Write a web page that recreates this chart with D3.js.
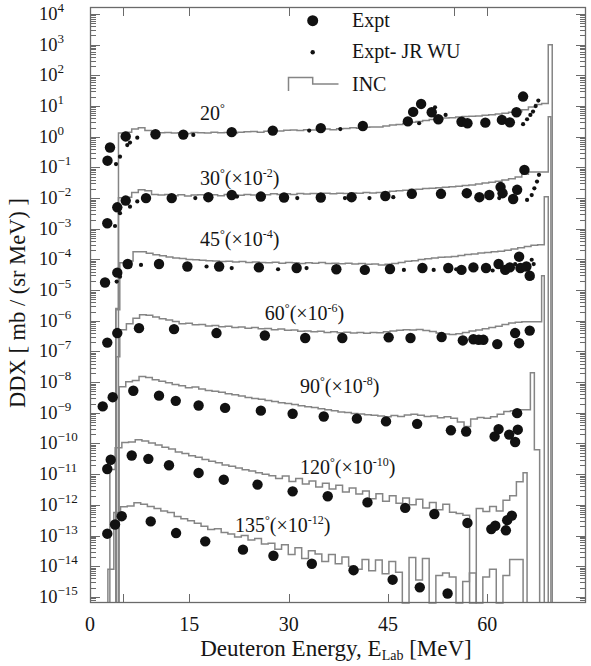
<!DOCTYPE html>
<html><head><meta charset="utf-8">
<script src="https://cdn.jsdelivr.net/npm/d3@7"></script>
<style>body{margin:0;background:#fff}svg{display:block}text{font-family:"Liberation Serif","Times New Roman",serif;fill:#151515}</style>
</head><body>
<script>
// ---------------- DATA (log10 of displayed DDX) ----------------
const xTicks = [0, 15, 30, 45, 60];
const xMinorTicks = [5];
const topTicks = [5, 15, 30, 55, 60];
const yDecades = d3.range(-15, 5);

// INC histograms: start, end energy (MeV) and log10 values of equal-width bins
const inc20Range = [4.3, 69.2];
const inc20 = [0.12,0.15,0.25,0.29,0.20,0.15,0.13,0.14,0.12,0.13,0.11,0.14,0.13,0.12,0.15,0.13,0.14,0.12,0.15,0.16,
  0.17,0.15,0.18,0.20,0.19,0.21,0.22,0.20,0.23,0.22,0.24,0.25,0.23,0.26,0.27,0.29,0.28,0.31,0.32,0.32,
  0.35,0.38,0.40,0.43,0.47,0.50,0.53,0.56,0.58,0.61,0.62,0.64,0.66,0.67,0.68,0.70,0.72,0.74,0.77,0.80,
  0.82,0.88,0.97,1.05,1.08];
const inc30Range = [4.3, 69.2];
const inc30 = [-1.99,-1.97,-1.82,-1.73,-1.76,-1.88,-1.90,-1.88,-1.92,-1.89,-1.93,-1.90,-1.89,-1.91,-1.89,-1.92,-1.88,-1.90,-1.91,-1.88,
  -1.90,-1.87,-1.89,-1.86,-1.88,-1.86,-1.88,-1.85,-1.87,-1.85,-1.87,-1.84,-1.86,-1.84,-1.85,-1.83,-1.84,-1.82,-1.83,-1.82,
  -1.81,-1.78,-1.76,-1.74,-1.72,-1.71,-1.69,-1.68,-1.66,-1.65,-1.63,-1.61,-1.59,-1.57,-1.54,-1.51,-1.48,-1.45,-1.41,-1.37,
  -1.31,-1.22,-1.15,-1.15,-1.15];
const inc45Range = [4.5, 68.6];
const inc45 = [-4.11,-4.05,-3.75,-3.75,-3.80,-3.85,-3.88,-3.92,-3.95,-3.97,-4.00,-4.01,-4.03,-4.04,-4.05,-4.07,-4.06,-4.08,-4.07,-4.10,
  -4.08,-4.10,-4.11,-4.09,-4.12,-4.10,-4.11,-4.13,-4.11,-4.12,-4.10,-4.13,-4.12,-4.14,-4.12,-4.15,-4.13,-4.16,-4.15,-4.18,
  -4.16,-4.13,-4.10,-4.06,-4.04,-4.00,-3.98,-3.95,-3.93,-3.92,-3.90,-3.87,-3.84,-3.82,-3.79,-3.77,-3.75,-3.73,-3.70,-3.66,
  -3.62,-3.58,-3.54,-3.52];
const inc60Range = [4.5, 68.2];
const inc60 = [-6.29,-6.10,-5.92,-5.80,-5.82,-5.88,-5.93,-5.97,-6.02,-6.10,-6.08,-6.13,-6.12,-6.17,-6.15,-6.19,-6.18,-6.22,-6.20,-6.24,
  -6.22,-6.26,-6.25,-6.29,-6.27,-6.31,-6.30,-6.34,-6.33,-6.36,-6.34,-6.38,-6.36,-6.39,-6.37,-6.40,-6.38,-6.41,-6.38,-6.39,
  -6.36,-6.33,-6.31,-6.29,-6.30,-6.28,-6.32,-6.35,-6.40,-6.43,-6.45,-6.42,-6.38,-6.33,-6.30,-6.26,-6.22,-6.18,-6.12,-6.07,
  -6.05,-6.03,-6.03,-6.03];
const inc90Range = [4.4, 66.5];
const inc90 = [-8.15,-7.99,-7.95,-7.82,-7.85,-7.92,-7.97,-8.02,-8.08,-8.12,-8.18,-8.16,-8.22,-8.27,-8.30,-8.33,-8.38,-8.41,-8.45,-8.50,
  -8.53,-8.56,-8.60,-8.63,-8.67,-8.70,-8.73,-8.77,-8.80,-8.83,-8.87,-8.90,-8.93,-8.97,-8.99,-9.02,-9.04,-9.06,-9.08,-9.10,
  -9.13,-9.09,-9.12,-9.07,-9.05,-9.08,-9.12,-9.10,-9.16,-9.13,-9.18,-9.30,-9.45,-9.20,-9.15,-9.18,-9.13,-9.05,-8.96,-8.93,
  -8.90,-8.90];
const inc120Range = [3.8, 65.4];
const inc120 = [-10.14,-9.97,-9.95,-9.88,-9.92,-9.98,-10.05,-10.12,-10.18,-10.28,-10.33,-10.40,-10.45,-10.52,-10.58,-10.63,-10.70,-10.74,-10.80,-10.86,
  -10.90,-10.95,-11.00,-11.05,-11.14,-11.06,-11.24,-11.14,-11.32,-11.22,-11.42,-11.30,-11.48,-11.36,-11.58,-11.45,-11.65,-11.55,-11.80,-11.64,
  -11.88,-11.70,-11.95,-11.78,-12.00,-11.82,-12.10,-11.92,-12.16,-11.98,-12.24,-12.28,-12.34,null,-12.12,-12.22,-12.05,-12.20,-11.85,-11.70,
  -11.25];
const inc135Range = [3.6, 65.4];
const inc135 = [-12.25,-12.06,-12.04,-11.93,-11.98,-12.05,-12.12,-12.20,-12.25,-12.38,-12.45,-12.52,-12.60,-12.70,-12.80,-12.78,-12.90,-12.95,-13.05,-13.00,
  -13.15,-13.10,-13.28,-13.25,-13.45,-13.30,-13.62,-13.40,-13.75,-13.50,-13.60,-13.85,-13.62,-13.92,-13.70,-14.00,-14.10,-13.78,-14.15,-13.80,
  -14.25,-13.85,-14.20,null,-13.72,-14.45,-13.75,null,-14.30,-14.22,-14.35,null,-14.50,-14.22,null,-14.35,-14.10,null,-14.30,-13.78,
  -13.78];
// extra narrow bins before the continuum and the elastic spikes after it: [E0, E1, log10]
const pre30 = [[3.9, 4.3, -5.6]];
const pre45 = [[3.9, 4.5, -5.64]];
const pre60 = [[4.0, 4.5, -7.17]];
const pre120 = [[3.0, 3.8, -10.85]];
const pre135 = [[2.7, 3.6, -14.1]];
const spike20 = [[69.2, 69.8, 3.0]];
const spike30 = [[69.2, 69.6, 0.65]];
const spike45 = [[68.6, 69.2, -1.96]];
const spike60 = [[68.2, 68.6, -4.53]];
const spike90 = [[66.5, 67.1, -7.69], [67.1, 67.9, -10.2]];
const spike120 = [[65.4, 66.0, -10.95]];

// Experimental points [E (MeV), log10 DDX]
const expt20 = [[2.64,-0.78],[3.02,-0.35],[5.39,0.01],[9.89,0.08],[14.09,0.07],[21.4,0.15],[27.6,0.20],[34.85,0.28],[41.2,0.35],[48.0,0.50],[48.8,0.81],[50.0,1.07],[51.6,0.80],[52.6,0.57],[56.1,0.49],[57.0,0.44],[59.7,0.46],[62.2,0.55],[63.4,0.47],[64.4,0.80],[65.4,1.31]];
const jrwu20 = [[3.93,-0.89],[4.53,-0.65],[5.63,-0.27],[6.04,-0.19],[7.14,-0.03],[15.6,0.06],[33.1,0.20],[37.8,0.25],[49.7,0.44],[52.1,0.96],[53.7,0.71],[65.4,0.41],[66.0,0.57],[66.5,0.71],[66.9,0.82],[67.3,1.0],[67.7,1.18]];
const expt30 = [[2.61,-2.82],[4.12,-2.30],[5.39,-2.08],[8.46,-2.00],[12.34,-2.00],[17.87,-1.97],[21.4,-1.90],[25.8,-1.95],[29.3,-1.98],[34.85,-1.98],[39.5,-1.97],[44.6,-1.93],[48.6,-1.86],[53.0,-1.86],[56.9,-1.84],[58.8,-1.97],[60.3,-1.90],[62.0,-1.64],[62.3,-1.84],[64.5,-1.73],[63.9,-2.03],[65.6,-1.08]];
const jrwu30 = [[3.78,-2.91],[4.53,-2.49],[6.04,-2.28],[7.14,-2.11],[15.9,-2.0],[22.2,-1.95],[31.3,-2.0],[38.5,-2.0],[42.2,-2.0],[45.8,-1.97],[61.8,-2.0],[66.0,-2.06],[66.7,-1.90],[67.1,-1.68],[67.5,-1.46],[67.8,-1.24]];
const expt45 = [[2.27,-4.75],[4.12,-4.43],[5.69,-4.15],[10.42,-4.15],[14.7,-4.23],[19.5,-4.23],[25.5,-4.26],[31.2,-4.28],[37.2,-4.32],[41.5,-4.34],[45.3,-4.31],[50.2,-4.28],[54.1,-4.28],[56.1,-4.34],[57.9,-4.26],[59.8,-4.28],[61.7,-4.15],[62.7,-4.34],[63.4,-4.26],[64.8,-3.91],[65.0,-4.28],[65.9,-4.23],[66.4,-4.53]];
const jrwu45 = [[4.03,-4.72],[4.53,-4.56],[6.04,-4.23],[7.7,-4.18],[17.6,-4.23],[21.4,-4.28],[28.4,-4.32],[32.7,-4.28],[47.4,-4.34],[51.9,-4.34],[55.3,-4.32],[60.8,-4.36],[64.2,-4.15],[66.7,-4.01],[67.0,-4.15],[66.8,-4.6]];
const expt60 = [[2.61,-6.71],[4.12,-6.40],[7.40,-6.24],[12.69,-6.27],[19.1,-6.40],[26.4,-6.48],[32.5,-6.56],[38.1,-6.56],[45.1,-6.54],[48.4,-6.56],[53.1,-6.53],[56.3,-6.64],[57.9,-6.60],[58.7,-6.62],[59.4,-6.62],[61.5,-6.76],[64.2,-6.40],[64.8,-6.73],[66.4,-6.32]];
const expt90 = [[1.92,-8.79],[3.43,-8.49],[6.54,-8.28],[10.42,-8.44],[12.95,-8.61],[16.4,-8.76],[20.4,-8.84],[25.8,-8.93],[30.6,-9.03],[35.3,-9.12],[40.3,-9.19],[44.7,-9.28],[49.4,-9.36],[54.5,-9.57],[56.8,-9.61],[61.1,-9.77],[61.7,-9.53],[63.3,-9.71],[64.5,-9.01],[64.6,-9.55],[64.2,-9.95]];
const expt120 = [[2.61,-10.83],[3.13,-10.53],[6.30,-10.39],[8.81,-10.50],[11.93,-10.71],[16.4,-10.96],[20.2,-11.18],[25.3,-11.34],[30.6,-11.56],[35.9,-11.72],[41.9,-11.92],[47.6,-12.10],[52.0,-12.30],[57.0,-12.59],[60.6,-12.79],[61.2,-12.68],[62.8,-12.83],[63.0,-12.50],[63.7,-12.35]];
const expt135 = [[2.61,-12.94],[3.78,-12.64],[4.79,-12.37],[9.17,-12.54],[13.0,-12.92],[17.4,-13.19],[23.1,-13.46],[27.7,-13.66],[33.5,-13.92],[39.8,-14.13],[45.7,-14.44],[49.8,-14.69],[54.0,-14.89]];

// curve labels: angle, scale exponent, anchor [E, log10]
const curveLabels = [["20", null, 16.6, 0.56],["30","-2",16.6,-1.56],["45","-4",16.6,-3.55],["60","-6",26.4,-5.99],["90","-8",31.7,-8.36],["120","-10",31.7,-11.0],["135","-12",21.9,-12.87]];

// ---------------- DRAWING ----------------
const W = 591, H = 666;
const L = 90, R = 586, T = 7, B = 603;
const svg = d3.select("body").append("svg").attr("width", W).attr("height", H);
const x = d3.scaleLinear().domain([0, 74.9]).range([L, R]);
const y = d3.scaleLog().domain([Math.pow(10, -15.2), Math.pow(10, 4.23)]).range([B, T]);
const yv = v => v === null ? B : Math.min(B, y(Math.pow(10, v)));

const frameCol = "#6a6a6a";
// ticks
const gT = svg.append("g").attr("stroke", frameCol).attr("stroke-width", 1);
yDecades.forEach(d => {
  for (let k = 1; k <= 9; k++) {
    const v = k * Math.pow(10, d);
    if (v < y.domain()[0] || v > y.domain()[1]) continue;
    const len = k === 1 ? 10 : 6;
    const yy = Math.round(y(v)) + 0.5;
    gT.append("line").attr("x1", L).attr("x2", L + len).attr("y1", yy).attr("y2", yy);
    gT.append("line").attr("x1", R).attr("x2", R - len).attr("y1", yy).attr("y2", yy);
  }
});
[-16].forEach(d => { for (let k = 7; k <= 9; k++) { const v = k * Math.pow(10, d); if (v < y.domain()[0]) continue; const yy = Math.round(y(v)) + 0.5;
  gT.append("line").attr("x1", L).attr("x2", L + 6).attr("y1", yy).attr("y2", yy);
  gT.append("line").attr("x1", R).attr("x2", R - 6).attr("y1", yy).attr("y2", yy); } });
xTicks.concat(xMinorTicks).forEach(t => { if (t === 0) return; const xx = Math.round(x(t)) + 0.5;
  gT.append("line").attr("x1", xx).attr("x2", xx).attr("y1", B).attr("y2", B - 9); });
topTicks.forEach(t => { const xx = Math.round(x(t)) + 0.5;
  gT.append("line").attr("x1", xx).attr("x2", xx).attr("y1", T).attr("y2", T + 9); });

// INC histograms
function bins(range, vals) { const w = (range[1] - range[0]) / vals.length; return vals.map((v, i) => [range[0] + i * w, range[0] + (i + 1) * w, v]); }
const incSets = [
  [], bins(inc20Range, inc20), spike20,
  pre30, bins(inc30Range, inc30), spike30,
  pre45, bins(inc45Range, inc45), spike45,
  pre60, bins(inc60Range, inc60), spike60,
  [], bins(inc90Range, inc90), spike90,
  pre120, bins(inc120Range, inc120), spike120,
  pre135, bins(inc135Range, inc135), []
];
const histos = [];
for (let i = 0; i < incSets.length; i += 3) histos.push(incSets[i].concat(incSets[i + 1], incSets[i + 2]));
const gI = svg.append("g").attr("fill", "none").attr("stroke", "#858585").attr("stroke-width", 1.5).attr("stroke-linejoin", "miter");
histos.forEach(hb => {
  const p = d3.path();
  let prevEnd = null;
  hb.forEach(b => {
    const x0 = x(b[0]), x1 = x(b[1]), yy = yv(b[2]);
    if (prevEnd === null || Math.abs(b[0] - prevEnd) > 1e-6) {
      if (prevEnd !== null) p.lineTo(x(prevEnd), B);
      p.moveTo(x0, B);
    }
    p.lineTo(x0, yy); p.lineTo(x1, yy);
    prevEnd = b[1];
  });
  p.lineTo(x(prevEnd), B);
  gI.append("path").attr("d", p.toString());
});

// frame
svg.append("rect").attr("x", L + 0.5).attr("y", T + 0.5).attr("width", R - L - 1).attr("height", B - T - 1)
  .attr("fill", "none").attr("stroke", frameCol).attr("stroke-width", 1.3);

// points
const gP = svg.append("g").attr("fill", "#111");
[expt20, expt30, expt45, expt60, expt90, expt120, expt135].forEach(s => s.forEach(d => {
  gP.append("circle").attr("cx", x(d[0])).attr("cy", y(Math.pow(10, d[1]))).attr("r", 5.2);
}));
[jrwu20, jrwu30, jrwu45].forEach(s => s.forEach(d => {
  gP.append("circle").attr("cx", x(d[0])).attr("cy", y(Math.pow(10, d[1]))).attr("r", 2.1);
}));

// curve labels
curveLabels.forEach(c => {
  const t = svg.append("text").attr("x", x(c[2])).attr("y", y(Math.pow(10, c[3]))).attr("font-size", 20);
  t.append("tspan").text(c[0]);
  t.append("tspan").text("°").attr("font-size", 12).attr("dy", -8);
  if (c[1] !== null) {
    t.append("tspan").text("(×10").attr("dy", 8);
    t.append("tspan").text(c[1]).attr("font-size", 12).attr("dy", -8);
    t.append("tspan").text(")").attr("dy", 8);
  }
});

// y tick labels
yDecades.forEach(d => {
  const t = svg.append("text").attr("x", 39).attr("y", y(Math.pow(10, d)) + 6).attr("font-size", 18.5);
  t.append("tspan").text("10");
  t.append("tspan").text(d < 0 ? "−" + (-d) : String(d)).attr("font-size", 13).attr("dy", -8);
});
// x tick labels
xTicks.forEach(t => svg.append("text").attr("x", x(t)).attr("y", 631).attr("text-anchor", "middle").attr("font-size", 20).text(t));

// axis titles
const xt = svg.append("text").attr("x", 336).attr("y", 656).attr("text-anchor", "middle").attr("font-size", 23);
xt.append("tspan").text("Deuteron Energy, E");
xt.append("tspan").text("Lab").attr("font-size", 14).attr("dy", 4);
xt.append("tspan").text(" [MeV]").attr("dy", -4);
svg.append("text").attr("transform", "translate(25,303) rotate(-90)").attr("text-anchor", "middle").attr("font-size", 22.5)
  .text("DDX [ mb / (sr MeV) ]");

// legend
const lg = svg.append("g");
lg.append("circle").attr("cx", 312.7).attr("cy", 20.7).attr("r", 5.5).attr("fill", "#111");
lg.append("circle").attr("cx", 312.7).attr("cy", 52.3).attr("r", 2.2).attr("fill", "#111");
lg.append("path").attr("d", "M288.5,91V77.5H312.7V84H338.5").attr("fill", "none").attr("stroke", "#858585").attr("stroke-width", 1.5);
lg.append("text").attr("x", 352).attr("y", 27).attr("font-size", 20).text("Expt");
lg.append("text").attr("x", 352).attr("y", 58).attr("font-size", 20).text("Expt- JR WU");
lg.append("text").attr("x", 352).attr("y", 91).attr("font-size", 20).text("INC");
</script>
</body></html>
